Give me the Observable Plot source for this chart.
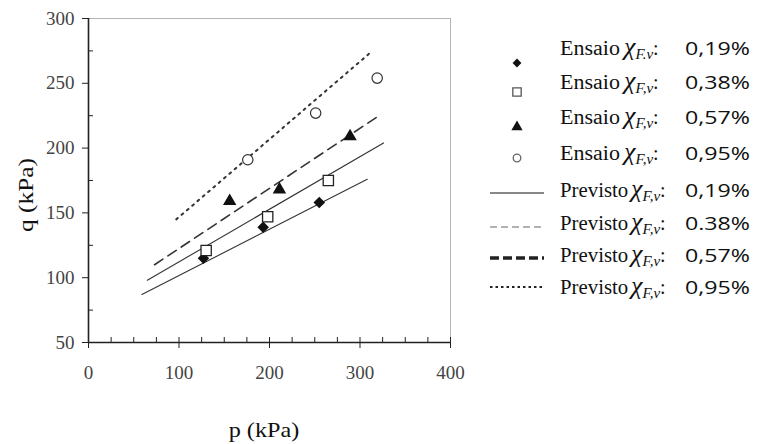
<!DOCTYPE html>
<html>
<head>
<meta charset="utf-8">
<script src="https://cdn.jsdelivr.net/npm/d3@7"></script>
<script src="https://cdn.jsdelivr.net/npm/@observablehq/plot@0.6"></script>
<style>
  body { margin: 0; background: #fff; }
  #wrap { position: relative; width: 762px; height: 444px; overflow: hidden; background: #fff; }
  #chart { position: absolute; left: 0; top: 0; }
  #chart svg text { font-family: "Liberation Serif", serif; }
  .pc { position: absolute; white-space: nowrap; color: #111; line-height: 1; transform-origin: 0 50%; }
  .w { font-family: "Liberation Serif", serif; font-size: 20px; }
  .chi { font-family: "Liberation Serif", serif; font-style: italic; font-size: 26px; }
  .chi sub { font-size: 15px; font-style: italic; vertical-align: -4px; }
  .col { font-family: "Liberation Serif", serif; font-size: 20px; font-style: normal; }
  .num { font-family: "Open Sans", sans-serif; font-size: 19px; transform: scaleX(1.22); }
  .mk { position: absolute; }
  .title { position: absolute; font-family: "Liberation Serif", serif; font-size: 22px; color: #111; white-space: nowrap; line-height: 1; }
</style>
</head>
<body>
<div id="wrap"><div id="chart"></div></div>
<script>
// ---- data ----
const ensaio019P = [127, 193, 255];
const ensaio019Q = [115, 139, 158];
const ensaio038P = [130, 198, 265];
const ensaio038Q = [121, 147, 175];
const ensaio057P = [156, 211, 289];
const ensaio057Q = [159, 168, 209];
const ensaio095P = [176, 251, 319];
const ensaio095Q = [191, 227, 254];

const previsto019P = [59, 308];
const previsto019Q = [87, 176];
const previsto038P = [65, 326];
const previsto038Q = [98, 204];
const previsto057P = [73, 321];
const previsto057Q = [110, 225];
const previsto095P = [97, 312];
const previsto095Q = [145, 274];

const xTicksMajor = [0, 100, 200, 300, 400];
const xTicksMinor = d3.range(0, 401, 25);
const yTicksMajor = [50, 100, 150, 200, 250, 300];
const yTicksMinor = [75, 125, 175, 225, 275];

const xTitle = "p (kPa)";
const yTitle = "q (kPa)";
const ensaioSubs = ["F.v", "F,v", "F,v", "F,v"];
const ensaioVals = ["0,19%", "0,38%", "0,57%", "0,95%"];
const previstoSubs = ["F,v", "F,v", "F,v", "F,v"];
const previstoVals = ["0,19%", "0.38%", "0,57%", "0,95%"];

const pts = (P, Q) => P.map((p, i) => ({p, q: Q[i]}));

const font = "'Liberation Serif', serif";

const plot = Plot.plot({
  width: 762,
  height: 444,
  marginLeft: 88,
  marginRight: 312,
  marginTop: 18,
  marginBottom: 102,
  style: {fontFamily: font, background: "transparent"},
  x: {domain: [0, 400], axis: null},
  y: {domain: [50, 300], axis: null},
  marks: [
    Plot.frame({stroke: "#b5b5b5", strokeWidth: 1}),
    // y axis
    Plot.axisY({ticks: yTicksMajor, tickSize: 6, tickPadding: 8, fontSize: 19, fontFamily: font, color: "#444", stroke: "#222", tickFormat: d => d, label: null}),
    Plot.axisY({ticks: yTicksMinor, tickSize: 5, dx: 5, text: null, stroke: "#222", label: null}),
    // x axis
    Plot.axisX({ticks: xTicksMinor, tickSize: 5, dy: -5, text: null, stroke: "#222", label: null}),
    Plot.axisX({ticks: xTicksMajor, tickSize: 6, tickPadding: 17, fontSize: 19, fontFamily: font, color: "#444", stroke: "#222", tickFormat: d => d, label: null}),
    Plot.ruleX([0], {stroke: "#222", strokeWidth: 1.6}),
    Plot.ruleY([50], {stroke: "#222", strokeWidth: 1.6}),
    // predicted lines
    Plot.line(pts(previsto019P, previsto019Q), {x: "p", y: "q", stroke: "#333", strokeWidth: 1.1}),
    Plot.line(pts(previsto038P, previsto038Q), {x: "p", y: "q", stroke: "#333", strokeWidth: 1.1}),
    Plot.line(pts(previsto057P, previsto057Q), {x: "p", y: "q", stroke: "#333", strokeWidth: 1.6, strokeDasharray: "10,6"}),
    Plot.line(pts(previsto095P, previsto095Q), {x: "p", y: "q", stroke: "#333", strokeWidth: 2, strokeDasharray: "2,5"}),
    // test points
    Plot.dot(pts(ensaio019P, ensaio019Q), {x: "p", y: "q", symbol: "diamond2", r: 5.2, fill: "#111", stroke: "none"}),
    Plot.dot(pts(ensaio038P, ensaio038Q), {x: "p", y: "q", symbol: "square", r: 5.8, fill: "#fff", stroke: "#222", strokeWidth: 1.3}),
    Plot.dot(pts(ensaio057P, ensaio057Q), {x: "p", y: "q", symbol: "triangle", r: 5, fill: "#111", stroke: "none"}),
    Plot.dot(pts(ensaio095P, ensaio095Q), {x: "p", y: "q", symbol: "circle", r: 5.2, fill: "#fff", stroke: "#333", strokeWidth: 1.2})
  ]
});
document.getElementById("chart").appendChild(plot);

const wrap = document.getElementById("wrap");

// ---- axis titles ----
const xt = document.createElement("div");
xt.className = "title";
xt.textContent = xTitle;
xt.style.left = "264px"; xt.style.top = "430px";
xt.style.transform = "translate(-50%, -50%) scaleX(1.1)";
wrap.appendChild(xt);
const yt = document.createElement("div");
yt.className = "title";
yt.textContent = yTitle;
yt.style.left = "26px"; yt.style.top = "195px";
yt.style.transform = "translate(-50%, -50%) rotate(-90deg) scaleX(1.15)";
wrap.appendChild(yt);

// ---- legend ----
const ensaioTextY = [38, 72, 107, 143];
const ensaioMarkY = [63, 92, 127, 158];
const previstoTextY = [180, 213, 245, 277];
const previstoLineY = [193, 227, 258, 287];
const markerSpecs = [
  {type: d3.symbolDiamond2, size: 50, fill: "#111", stroke: "none"},
  {type: d3.symbolSquare, size: 70, fill: "#fff", stroke: "#555"},
  {type: d3.symbolTriangle, size: 55, fill: "#111", stroke: "none"},
  {type: d3.symbolCircle, size: 45, fill: "#fff", stroke: "#666"}
];
const lineSpecs = [
  {w: 1.2, dash: null, c: "#111"},
  {w: 1, dash: "7,4", c: "#666"},
  {w: 3.5, dash: "9,4", c: "#222"},
  {w: 2.2, dash: "2.5,3", c: "#222"}
];
function piece(cls, html, left, top, transform) {
  const d = document.createElement("div");
  d.className = "pc " + cls;
  d.innerHTML = html;
  d.style.left = left + "px";
  d.style.top = top + "px";
  if (transform) d.style.transform = transform;
  wrap.appendChild(d);
}
function addRow(word, sub, val, top, scale, chiX) {
  piece("w", word, 560, top, `scaleX(${scale})`);
  piece("chi", `χ<sub>${sub}</sub><span class="col">:</span>`, chiX, top - 4);
  piece("num", val, 685, top + 1);
}
ensaioVals.forEach((v, i) => {
  addRow("Ensaio", ensaioSubs[i], v, ensaioTextY[i], 1.1, 624);
  const s = markerSpecs[i];
  const svg = d3.create("svg").attr("class", "mk").attr("width", 20).attr("height", 20)
    .style("left", (517 - 10) + "px").style("top", (ensaioMarkY[i] - 10) + "px");
  svg.append("path").attr("transform", "translate(10,10)")
    .attr("d", d3.symbol(s.type, s.size)()).attr("fill", s.fill).attr("stroke", s.stroke).attr("stroke-width", 1.3);
  wrap.appendChild(svg.node());
});
previstoVals.forEach((v, i) => {
  addRow("Previsto", previstoSubs[i], v, previstoTextY[i], 1.04, 631);
  const s = lineSpecs[i];
  const svg = d3.create("svg").attr("class", "mk").attr("width", 60).attr("height", 10)
    .style("left", "488px").style("top", (previstoLineY[i] - 5) + "px");
  const ln = svg.append("line").attr("x1", 2).attr("x2", 56).attr("y1", 5).attr("y2", 5)
    .attr("stroke", s.c).attr("stroke-width", s.w);
  if (s.dash) ln.attr("stroke-dasharray", s.dash);
  wrap.appendChild(svg.node());
});
</script>
</body>
</html>
